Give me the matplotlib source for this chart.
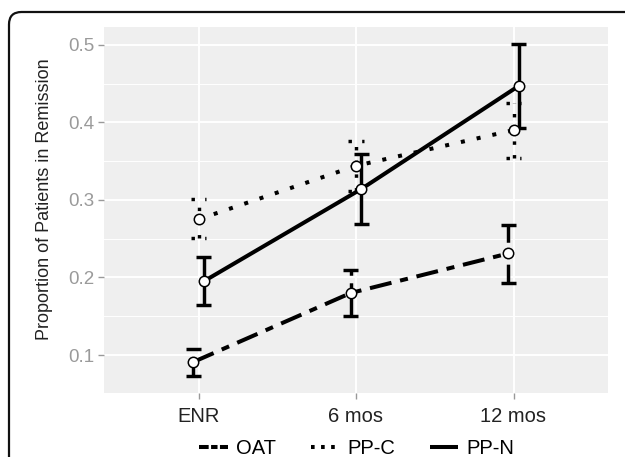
import matplotlib
matplotlib.use("Agg")
import matplotlib.pyplot as plt
from matplotlib.lines import Line2D
from matplotlib.patches import FancyBboxPatch
import numpy as np

plt.rcParams["font.family"] = ["Liberation Sans", "DejaVu Sans"]

# ------------------------------------------------------------------
# Data
# ------------------------------------------------------------------
timepoints = ["ENR", "6 mos", "12 mos"]
groups = ["OAT", "PP-C", "PP-N"]

oat_mean = [0.091, 0.180, 0.231]
oat_low = [0.073, 0.150, 0.193]
oat_high = [0.108, 0.209, 0.268]

ppc_mean = [0.275, 0.344, 0.390]
ppc_low = [0.251, 0.312, 0.354]
ppc_high = [0.301, 0.376, 0.425]

ppn_mean = [0.195, 0.314, 0.447]
ppn_low = [0.164, 0.269, 0.393]
ppn_high = [0.227, 0.359, 0.501]

means = [oat_mean, ppc_mean, ppn_mean]
lows = [oat_low, ppc_low, ppn_low]
highs = [oat_high, ppc_high, ppn_high]

# ------------------------------------------------------------------
# Styles
# ------------------------------------------------------------------
lw = 2.9
styles = [(0, (5.5, 2.2, 2.0, 2.2)), (0, (1, 3)), "-"]
key_styles = [(0, (2.4, 0.6, 1.6, 0.6)), (0, (0.9, 1.6)), "-"]
offsets = [-0.033, 0.0, 0.033]
cap = 0.048

fig = plt.figure(figsize=(6.25, 4.57), dpi=100)
ax = fig.add_axes([0.1664, 0.14, 0.8064, 0.8009])
ax.set_facecolor("#EFEFEF")

x = np.arange(1, len(timepoints) + 1)

for m, lo, hi, ls, off in zip(means, lows, highs, styles, offsets):
    xs = x + off
    ax.plot(xs, m, linestyle=ls, color="black", lw=lw,
            dash_capstyle="butt", solid_capstyle="butt", zorder=3)
    ax.vlines(xs, lo, hi, colors="black", linestyles=[ls], lw=lw * 0.85, zorder=3)
    ax.hlines(lo, xs - cap, xs + cap, colors="black", linestyles=[ls], lw=lw * 0.85, zorder=3)
    ax.hlines(hi, xs - cap, xs + cap, colors="black", linestyles=[ls], lw=lw * 0.85, zorder=3)
    ax.plot(xs, m, "o", ms=7.5, mfc="white", mec="black", mew=1.1, zorder=4)

ax.set_xlim(0.4, 3.6)
ax.set_ylim(0.051, 0.523)
ax.set_xticks(x)
ax.set_xticklabels(timepoints)
ax.set_yticks([0.1, 0.2, 0.3, 0.4, 0.5])
ax.set_yticks([0.15, 0.25, 0.35, 0.45], minor=True)

ax.grid(True, which="major", color="white", lw=1.4)
ax.grid(True, which="minor", axis="y", color="white", lw=0.7)
ax.set_axisbelow(True)
for s in ax.spines.values():
    s.set_visible(False)

ax.tick_params(axis="both", which="major", length=4, width=1, color="#999999")
ax.tick_params(axis="y", which="major", labelsize=13.5, labelcolor="#9a9a9a", pad=3)
ax.tick_params(axis="x", which="major", labelsize=14.5, labelcolor="#222222", pad=6)
ax.tick_params(axis="y", which="minor", length=0)

fig.text(0.072, (457 - 199.5) / 457, "Proportion of Patients in Remission",
         rotation=90, ha="center", va="center", fontsize=13, color="#222222")

handles = [Line2D([0], [0], color="black", lw=lw, linestyle=ls,
                  dash_capstyle="butt", solid_capstyle="butt")
           for ls in key_styles]
fig.legend(handles, groups, loc="center", bbox_to_anchor=(0.571, 0.018), ncol=3,
           frameon=False, fontsize=14.5, handlelength=1.4, handletextpad=0.4,
           columnspacing=1.75)

# rounded outer frame, running off the right and bottom edges
frame = FancyBboxPatch((9 / 625, -0.2), 1.2, 0.2 + (457 - 12) / 457,
                       boxstyle="round,pad=0,rounding_size=0.02",
                       transform=fig.transFigure, fill=False,
                       edgecolor="#111111", lw=1.6, mutation_aspect=625 / 457)
fig.patches.append(frame)

plt.savefig("out.png", dpi=100)
